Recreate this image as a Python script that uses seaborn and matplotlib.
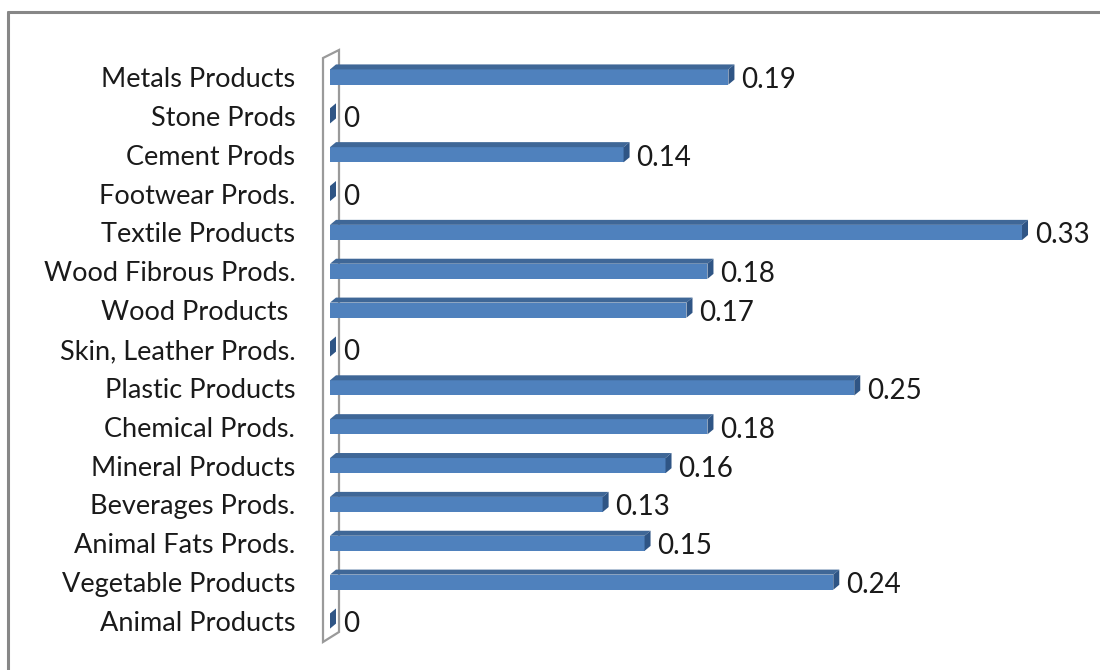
import matplotlib
matplotlib.use("Agg")
import matplotlib.pyplot as plt
from matplotlib.patches import Polygon
from matplotlib.lines import Line2D
from matplotlib.transforms import offset_copy
import seaborn as sns
import pandas as pd

categories = [
    "Metals Products", "Stone Prods", "Cement Prods", "Footwear Prods.",
    "Textile Products", "Wood Fibrous Prods.", "Wood Products ",
    "Skin, Leather Prods.", "Plastic Products", "Chemical Prods.",
    "Mineral Products", "Beverages Prods.", "Animal Fats Prods.",
    "Vegetable Products", "Animal Products",
]
values = [0.19, 0, 0.14, 0, 0.33, 0.18, 0.17, 0, 0.25, 0.18, 0.16, 0.13, 0.15, 0.24, 0]

df = pd.DataFrame({"category": categories, "value": values})

sns.set_theme(style="white")
plt.rcParams["font.family"] = ["Lato", "DejaVu Sans"]

W, H = 1100, 670
fig = plt.figure(figsize=(W / 100, H / 100), dpi=100)

# pixel geometry of the plotting area
x0_px, px_per_unit = 330, 2097
row0_px, row_px = 77, 38.86
y_top, y_bot = -0.75, 14.75
top_px = row0_px + y_top * row_px
bot_px = row0_px + y_bot * row_px
ax = fig.add_axes([x0_px / W, 1 - bot_px / H, (W - x0_px) / W, (bot_px - top_px) / H])

front = "#4F81BD"
top_face = "#3F6797"
side_face = "#2F5585"

sns.barplot(data=df, x="value", y="category", orient="h", color=front,
            width=0.39, saturation=1, ax=ax, order=categories, zorder=3)

ax.set_xlim(0, (W - x0_px) / px_per_unit)
ax.set_ylim(y_bot, y_top)

# depth offsets for the 3-D look
ddx = 6 / px_per_unit
ddy = -5 / row_px

# side wall on the left
wx0, wx1 = (323 - x0_px) / px_per_unit, (339 - x0_px) / px_per_unit
def row(py):
    return (py - row0_px) / row_px
wall = Polygon([(wx0, row(58)), (wx1, row(50)), (wx1, row(632)), (wx0, row(642))],
               closed=True, facecolor="white", edgecolor="#9a9a9a", lw=1.6,
               zorder=1, clip_on=False)
ax.add_patch(wall)

label_tf = offset_copy(ax.transData, fig=fig, x=0, y=-3, units="dots")
for p, v in zip(ax.patches[:len(values)], values):
    p.set_edgecolor("none")
    xa = p.get_x()
    xb = xa + p.get_width()
    ya = p.get_y()
    yb = ya + p.get_height()
    if v > 0:
        ax.add_patch(Polygon([(xa, ya), (xb, ya), (xb + ddx, ya + ddy), (xa + ddx, ya + ddy)],
                             closed=True, facecolor=top_face, edgecolor="none", zorder=3))
    ax.add_patch(Polygon([(xb, ya), (xb + ddx, ya + ddy), (xb + ddx, yb + ddy), (xb, yb)],
                         closed=True, facecolor=side_face, edgecolor="none", zorder=4))
    yc = ya + p.get_height() / 2
    ax.text(xb + 13 / px_per_unit, yc, f"{v:g}", va="center", ha="left",
            fontsize=20, color="#1a1a1a", zorder=5, transform=label_tf)

for s in ax.spines.values():
    s.set_visible(False)
ax.set_xticks([])
ax.set_xlabel("")
ax.set_ylabel("")
ax.tick_params(axis="y", length=0, pad=25, labelsize=19.5, labelcolor="#1a1a1a")
for t in ax.get_yticklabels():
    t.set_transform(t.get_transform() + offset_copy(ax.transData, fig=fig, x=0, y=-3, units="dots") - ax.transData)

# outer chart frame
fig.add_artist(Line2D([8 / W, 1], [1 - 12 / H, 1 - 12 / H], color="#878787", lw=2.2,
                      transform=fig.transFigure))
fig.add_artist(Line2D([8 / W, 8 / W], [1 - 12 / H, 0], color="#878787", lw=2.2,
                      transform=fig.transFigure))

fig.savefig("out.png", dpi=100)
